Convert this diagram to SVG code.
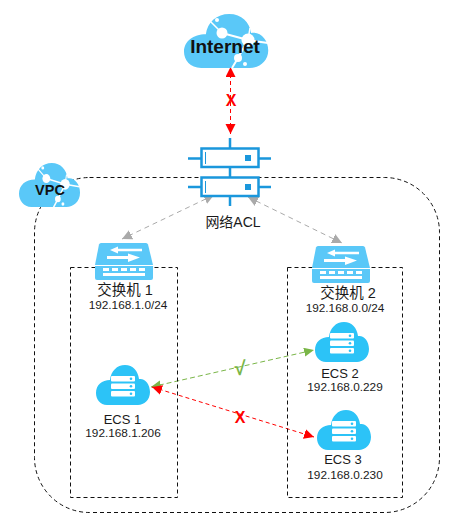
<svg xmlns="http://www.w3.org/2000/svg" width="457" height="521" viewBox="0 0 457 521">
<style>
text{font-family:"Liberation Sans","Noto Sans CJK SC",sans-serif;fill:#1a1a1a;text-anchor:middle}
.name{font-size:14.500px}
.ecsname{font-size:13px}
.ip{font-size:11.800px}
.bold{font-weight:700;fill:#111}
.mark{font-weight:700;font-size:16px;fill:#f00}
.box{fill:none;stroke:#111;stroke-width:1;stroke-dasharray:4 3}
.r{fill:none;stroke:#f00;stroke-width:1;stroke-dasharray:4 3}
.g{fill:none;stroke:#7ab648;stroke-width:1;stroke-dasharray:5 3}
.y{fill:none;stroke:#aaa;stroke-width:1;stroke-dasharray:5 4}
.acl{fill:#fff;stroke:#1a97dc;stroke-width:2.500}
.aclw{fill:none;stroke:#1a97dc;stroke-width:2.500}
</style>
<defs>
<marker id="mr" markerUnits="userSpaceOnUse" markerWidth="12" markerHeight="12" refX="10" refY="5" orient="auto-start-reverse"><path d="M0 0L10 5L0 10Z" fill="#f00"/></marker>
<marker id="mg" markerUnits="userSpaceOnUse" markerWidth="12" markerHeight="12" refX="10" refY="4.500" orient="auto-start-reverse"><path d="M0 0L10 4.500L0 9Z" fill="#7ab648"/></marker>
<marker id="my" markerUnits="userSpaceOnUse" markerWidth="12" markerHeight="12" refX="10" refY="5" orient="auto-start-reverse"><path d="M0 0L10 5L0 10Z" fill="#aaa"/></marker>
<path id="cl" d="M11 40C4 40 0 34 0 28C0 20 6 15 14 15C15 6 21 0 29 0C37 0 42 6 43 14C49 13 54 19 54 27C54 35 48 40 42 40Z"/>
<g id="ecs">
<use href="#cl" fill="#2cc3f7"/>
<g fill="#fff"><rect x="15" y="11" width="24" height="5.500" rx="1"/><rect x="15" y="18.500" width="24" height="5.500" rx="1"/><rect x="15" y="26" width="24" height="5.500" rx="1"/></g>
<g fill="#2cc3f7"><circle cx="35" cy="13.700" r="1.300"/><circle cx="35" cy="21.200" r="1.300"/><circle cx="35" cy="28.700" r="1.300"/></g>
</g>
<g id="sw">
<path d="M4 1.500Q4.500 0 6 0H51Q52.500 0 53 1.500L58 22V35Q58 37 56 37H2Q0 37 0 35V22Z" fill="#5ac8f8"/>
<path d="M0 22.500H58" stroke="#fff" stroke-width="1"/>
<path d="M15 7L23 3.500V5.800H47V8.200H23V10.500ZM12 13H33V10.500L45 14.500L33 19V16H12Z" fill="#fff"/>
<g fill="#fff"><rect x="8" y="25" width="6" height="3"/><rect x="17" y="25" width="6" height="3"/><rect x="26" y="25" width="6" height="3"/><rect x="35" y="25" width="6" height="3"/><rect x="44" y="25" width="6" height="3"/><rect x="8" y="30" width="42" height="3"/></g>
</g>
<g id="net" fill="none" stroke="#fff">
<path d="M23 4L38 19" stroke-width="1.500"/><path d="M38 19L64 26L84 29" stroke-width="2"/><path d="M64 26L54 44L48 54" stroke-width="2"/><path d="M66 14L64 26" stroke-width="1.500"/>
<g fill="#fff" stroke="none"><circle cx="38" cy="19" r="5.500"/><circle cx="64" cy="26" r="6.500"/><circle cx="54" cy="44" r="4"/><circle cx="33" cy="6" r="2"/><circle cx="61" cy="50" r="2"/></g>
</g>
</defs>

<g id="connectors">
<path class="r" d="M230.500 67V134" marker-start="url(#mr)" marker-end="url(#mr)"/>
<path class="y" d="M214 195L122 239" marker-start="url(#my)" marker-end="url(#my)"/>
<path class="y" d="M248 197L342 243" marker-start="url(#my)" marker-end="url(#my)"/>
<path class="g" d="M151 387L314 350" marker-start="url(#mg)" marker-end="url(#mg)"/>
<path class="r" d="M152 387L314 437" marker-start="url(#mr)" marker-end="url(#mr)"/>
</g>

<g id="vpc-boundary"><rect class="box" x="34.500" y="177.500" width="405" height="335" rx="55"/></g>
<g id="subnet-1"><rect class="box" x="70.500" y="267.500" width="107" height="230"/></g>
<g id="subnet-2"><rect class="box" x="287.500" y="267.500" width="115" height="230"/></g>

<g id="internet">
<g transform="translate(184,14) scale(1.560,1.350)"><use href="#cl" fill="#5ac8f8"/></g>
<g transform="translate(184,14)"><use href="#net"/></g>
<text class="bold" x="225" y="53" font-size="19">Internet</text>
</g>
<text class="mark" x="231" y="106">X</text>

<g id="acl">
<path class="aclw" d="M230 138V148M230 167V177M230 196V206M188 158.500H201M259 158.500H271M188 187H201M259 187H271"/>
<rect class="acl" x="201.500" y="148.500" width="57" height="18.500"/>
<rect class="acl" x="201.500" y="177.500" width="57" height="18.500"/>
<path d="M205.500 152V164M205.500 181V193" stroke="#1a97dc" stroke-width="1"/>
<rect x="245" y="155" width="6" height="6" fill="#1a97dc"/><rect x="245" y="184" width="6" height="6" fill="#1a97dc"/>
<text x="233" y="227" font-size="14">网络ACL</text>
</g>

<g id="vpc">
<g transform="translate(19,163) scale(1.130,1.100)"><use href="#cl" fill="#5ac8f8"/></g>
<g transform="translate(19,163) scale(.72,.82)"><use href="#net"/></g>
<text class="bold" x="50" y="195" font-size="14.500">VPC</text>
</g>

<g id="switch-1"><use href="#sw" x="95" y="243"/>
<text class="name" x="125" y="295">交换机 1</text><text class="ip" x="128" y="309">192.168.1.0/24</text></g>
<g id="switch-2"><use href="#sw" x="312" y="246"/>
<text class="name" x="348" y="298">交换机 2</text><text class="ip" x="345" y="312">192.168.0.0/24</text></g>

<g id="ecs-1"><use href="#ecs" x="96" y="365"/>
<text class="ecsname" x="122.500" y="424">ECS 1</text><text class="ip" x="123" y="437">192.168.1.206</text></g>
<g id="ecs-2"><use href="#ecs" x="315" y="322"/>
<text class="ecsname" x="340" y="378">ECS 2</text><text class="ip" x="345" y="391">192.168.0.229</text></g>
<g id="ecs-3"><use href="#ecs" x="317" y="410"/>
<text class="ecsname" x="343" y="464">ECS 3</text><text class="ip" x="345" y="479">192.168.0.230</text></g>

<text x="240" y="375" style="font-weight:700;font-size:20px;fill:#7ab648">√</text>
<text class="mark" x="240" y="423">X</text>
</svg>
